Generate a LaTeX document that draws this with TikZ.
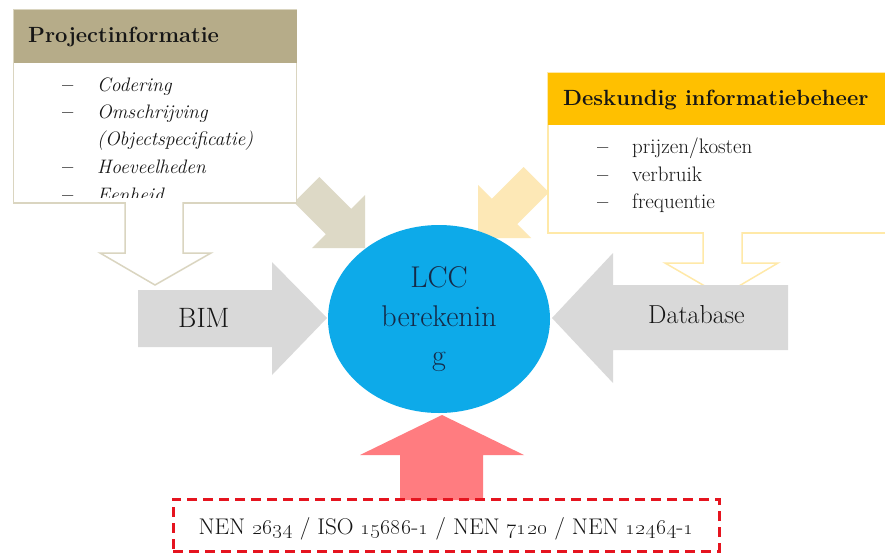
\documentclass[tikz,border=0pt]{standalone}
\usepackage{graphicx}
\usetikzlibrary{shapes.geometric}

\definecolor{tanhead}{HTML}{B6AC89}
\definecolor{tanline}{HTML}{DAD5C0}
\definecolor{tanarrow}{HTML}{DDD9C6}
\definecolor{gold}{HTML}{FFC000}
\definecolor{goldline}{HTML}{FFE9A8}
\definecolor{goldarrow}{HTML}{FDE8B6}
\definecolor{greyarrow}{HTML}{D9D9D9}
\definecolor{lccblue}{HTML}{0DAAE9}
\definecolor{lcctext}{HTML}{152A48}
\definecolor{redarrow}{HTML}{FF7C80}
\definecolor{reddash}{HTML}{E5141F}
\definecolor{ink}{HTML}{161616}

\begin{document}
\begin{tikzpicture}[x=1pt,y=-1pt,
  headtext/.style={font=\fontsize{22}{26}\selectfont\bfseries, text=ink, anchor=base west, inner sep=0},
  itemit/.style={font=\fontsize{19.5}{22}\selectfont\itshape, text=ink, anchor=base west, inner sep=0},
  itemup/.style={font=\fontsize{21}{24}\selectfont, text=ink, anchor=base west, inner sep=0},
  dashmark/.style={font=\fontsize{20}{22}\selectfont\bfseries, text=ink, anchor=base west, inner sep=0},
  bigtext/.style={font=\fontsize{28}{32}\selectfont, text=ink, anchor=base west, inner sep=0},
  outlinearrow/.style={fill=white, line width=1.5pt, line join=miter}
]
\useasboundingbox (0,0) rectangle (885,554);
\fill[white] (0,0) rectangle (885,554);

% diagonal feed arrows towards the calculation
\fill[tanarrow] (319.4,177) -- (351.2,208.8) -- (365,195) -- (365,248)
  -- (312,248) -- (325.8,234.2) -- (294,202.4) -- cycle;
\fill[goldarrow] (523.6,167) -- (491.8,198.8) -- (478,185) -- (478,238)
  -- (531,238) -- (517.2,224.2) -- (549,192.4) -- cycle;

% Projectinformatie box
\node[draw=tanline, line width=1.5pt, fill=white, minimum width=283pt, minimum height=193pt,
  inner sep=0] (projbox) at (155,106.5) {};
\node[fill=tanhead, minimum width=283pt, minimum height=53pt, inner sep=0] (projhead) at (155,36.5) {};
\node[headtext] (projtitle) at (28,42) {Projectinformatie};
\begin{scope}
  \clip (15,64) rectangle (295,197);
  \node[dashmark] (pd1) at (62,91) {--};
  \node[itemit] (pi1) at (97,91) {Codering};
  \node[dashmark] (pd2) at (62,118) {--};
  \node[itemit] (pi2) at (97,118) {Omschrijving};
  \node[itemit] (pi3) at (97,145) {(Objectspecificatie)};
  \node[dashmark] (pd4) at (62,173) {--};
  \node[itemit] (pi4) at (97,173) {Hoeveelheden};
  \node[dashmark] (pd5) at (62,201) {--};
  \node[itemit] (pi5) at (97,201) {Eenheid};
\end{scope}

% outline arrow from Projectinformatie down to BIM
\filldraw[outlinearrow, draw=tanline] (125,202) -- (125,253) -- (100,253) -- (155,285)
  -- (211,253) -- (183,253) -- (183,202);

% Deskundig informatiebeheer box
\node[draw=goldline, line width=1.5pt, fill=white, minimum width=342pt, minimum height=160pt,
  inner sep=0] (deskbox) at (719,153) {};
\node[fill=gold, minimum width=342pt, minimum height=52pt, inner sep=0] (deskhead) at (719,99) {};
\node[headtext] (desktitle) at (563,105) {Deskundig informatiebeheer};
\node[dashmark] (dd1) at (597,153) {--};
\node[itemup] (di1) at (632,153) {prijzen/kosten};
\node[dashmark] (dd2) at (597,181) {--};
\node[itemup] (di2) at (632,181) {verbruik};
\node[dashmark] (dd3) at (597,208) {--};
\node[itemup] (di3) at (632,208) {frequentie};

% outline arrow from Deskundig informatiebeheer down to Database
\filldraw[outlinearrow, draw=goldline] (703,232) -- (703,263) -- (665,263) -- (722,296)
  -- (778,263) -- (742,263) -- (742,232);

% BIM and Database block arrows
\fill[greyarrow] (138,290) -- (272,290) -- (272,262) -- (327,318) -- (272,375)
  -- (272,347) -- (138,347) -- cycle;
\node[bigtext] (bim) at (178,327) {BIM};
\fill[greyarrow] (788,285) -- (613,285) -- (613,253) -- (552,318) -- (613,383)
  -- (613,350) -- (788,350) -- cycle;
\node[bigtext, font=\fontsize{26}{30}\selectfont] (db) at (648,323) {Database};

% the calculation itself
\node[ellipse, fill=lccblue, minimum width=222pt, minimum height=188pt, inner sep=0,
  align=center, text=lcctext, font=\fontsize{30}{39}\selectfont] (lcc) at (439,319)
  {LCC\\berekenin\\g};

% standards feeding in from below
\fill[redarrow] (400,500) -- (400,455) -- (360,455) -- (442,415) -- (524,455)
  -- (483,455) -- (483,500) -- cycle;
\node[draw=reddash, line width=3pt, dash pattern=on 10pt off 6pt, minimum width=546pt,
  minimum height=52pt, inner sep=0] (normbox) at (446,525) {};
\node[font=\fontsize{22}{25}\selectfont, text=ink, anchor=base, inner sep=0] (norm) at (446,534)
  {\scalebox{1.055}[1.03]{NEN \oldstylenums{2634} / ISO \oldstylenums{15686}-\oldstylenums{1} / NEN \oldstylenums{7120} / NEN \oldstylenums{12464}-\oldstylenums{1}}};
\end{tikzpicture}
\end{document}
